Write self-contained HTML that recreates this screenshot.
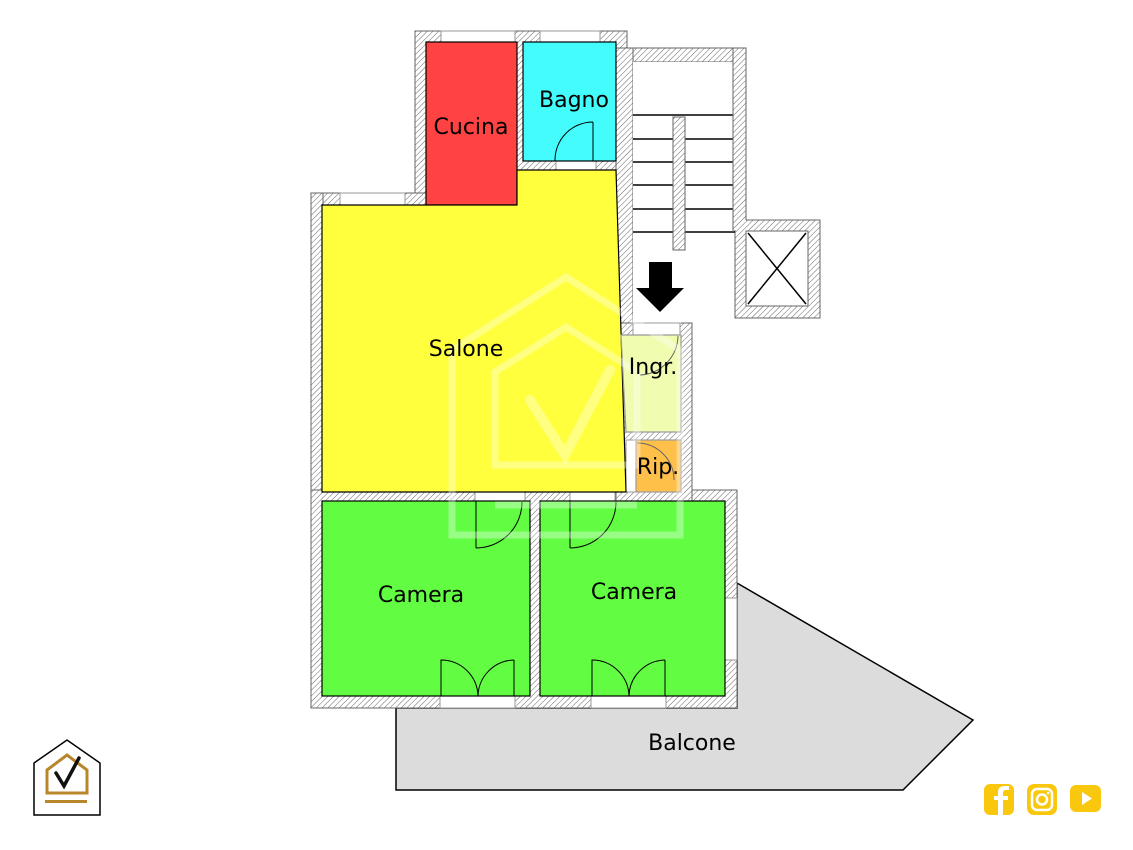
<!DOCTYPE html>
<html><head><meta charset="utf-8"><style>html,body{margin:0;padding:0;background:#fff}svg{display:block}text{font-family:"DejaVu Sans","Liberation Sans",sans-serif}</style></head>
<body>
<svg width="1133" height="850" viewBox="0 0 1133 850" xmlns="http://www.w3.org/2000/svg">
<defs>
<pattern id="h" width="4" height="4" patternUnits="userSpaceOnUse" patternTransform="rotate(45)">
<rect width="4" height="4" fill="#fff"/><line x1="0" y1="0" x2="0" y2="4" stroke="#666" stroke-width="1"/>
</pattern>
</defs>
<polygon points="396,708 737,708 737,583 973,720 903,790 396,790" fill="#dcdcdc" stroke="#000" stroke-width="1.5"/>
<g fill="url(#h)" stroke="#666" stroke-width="1">
<rect x="415" y="31" width="212" height="175"/>
<rect x="311" y="193" width="115" height="20"/>
<rect x="311" y="193" width="12" height="515"/>
<rect x="311" y="490" width="426" height="218"/>
<rect x="616" y="48" width="130" height="14"/>
<rect x="616" y="48" width="17" height="290"/>
<rect x="733" y="48" width="13" height="175"/>
<rect x="735" y="220" width="85" height="98"/>
<rect x="616" y="323" width="76" height="180"/>
</g>
<rect x="633" y="62" width="100" height="258" fill="#fff"/>
<g stroke="#000" stroke-width="1.5">
<line x1="633" y1="115" x2="735" y2="115"/>
<line x1="633" y1="139" x2="735" y2="139"/>
<line x1="633" y1="162" x2="735" y2="162"/>
<line x1="633" y1="185" x2="735" y2="185"/>
<line x1="633" y1="209" x2="735" y2="209"/>
<line x1="633" y1="232" x2="735" y2="232"/>
</g>
<rect x="673" y="117" width="12" height="133" fill="url(#h)" stroke="#666"/>
<rect x="733" y="62" width="13" height="168" fill="url(#h)"/>
<line x1="746" y1="48" x2="746" y2="220" stroke="#666"/>
<line x1="733" y1="62" x2="733" y2="232" stroke="#666"/>
<rect x="746" y="231" width="62" height="75" fill="#fff" stroke="#666"/>
<line x1="748" y1="233" x2="806" y2="304" stroke="#000" stroke-width="1.5"/>
<line x1="806" y1="233" x2="748" y2="304" stroke="#000" stroke-width="1.5"/>
<rect x="633" y="300" width="48" height="23" fill="#fff"/>
<polygon points="649,262 672,262 672,288 684,288 660,312 636,288 649,288" fill="#000"/>
<g fill="#fff" stroke="#999" stroke-width="1">
<rect x="441" y="31" width="74" height="11"/>
<rect x="540" y="31" width="60" height="11"/>
<rect x="340" y="193" width="65" height="12"/>
<rect x="440" y="696" width="75" height="12"/>
<rect x="591" y="696" width="75" height="12"/>
<rect x="725" y="598" width="12" height="62"/>
<rect x="556" y="161" width="40" height="9"/>
<rect x="475" y="492" width="50" height="9"/>
<rect x="570" y="492" width="45" height="9"/>
<rect x="633" y="323" width="47" height="12"/>
<rect x="626" y="440" width="10" height="52"/>
</g>
<g stroke="#000" stroke-width="1.2">
<rect x="426" y="42" width="91" height="163" fill="#ff4242"/>
<rect x="523" y="42" width="93" height="119" fill="#44fcfc"/>
<polygon points="322,205 517,205 517,170 616,170 626,492 322,492" fill="#ffff3e"/>
<polygon points="621,335 681,335 681,432 626,432" fill="#f0fcb0" stroke="#999"/>
<rect x="636" y="440" width="45" height="52" fill="#ffc04a" stroke="#999"/>
<rect x="322" y="501" width="208" height="195" fill="#62fc42"/>
<rect x="540" y="501" width="185" height="195" fill="#62fc42"/>
</g>
<g fill="none" stroke="#000" stroke-width="1">
<path d="M593,122 L593,161 M593,122 A38,38 0 0 0 555,161"/>
<path d="M476,548 L476,501 M476,548 A46,46 0 0 0 522,502"/>
<path d="M570,548 L570,501 M570,548 A46,46 0 0 0 616,502"/>
<path d="M441,696 L441,660 A37,37 0 0 1 478,696 M514,660 L514,696 M514,660 A37,37 0 0 0 478,696"/>
<path d="M592,696 L592,660 A37,37 0 0 1 629,696 M665,660 L665,696 M665,660 A37,37 0 0 0 629,696"/>
<path d="M678,336 A40,40 0 0 1 640,375" stroke="#666"/>
<path d="M637,443 A37,37 0 0 1 674,480" stroke="#666"/>
</g>
<g fill="none" stroke="#fff" stroke-opacity="0.35" stroke-width="7">
<polygon points="452,350 566,277 680,350 680,535 452,535"/>
<polygon points="495,372 566,327 637,372 637,465 495,465"/>
<path d="M530,400 L565,455 L610,370" stroke-linecap="round" stroke-width="10"/>
<line x1="495" y1="505" x2="637" y2="505"/>
</g>
<g font-size="22" fill="#000" text-anchor="middle">
<text x="471" y="134">Cucina</text>
<text x="574" y="107">Bagno</text>
<text x="466" y="356">Salone</text>
<text x="653" y="374">Ingr.</text>
<text x="658" y="474">Rip.</text>
<text x="421" y="602">Camera</text>
<text x="634" y="599">Camera</text>
<text x="692" y="750">Balcone</text>
</g>
<polygon points="34,763 67,740 100,763 100,815 34,815" fill="#fff" stroke="#000" stroke-width="1.5"/>
<polygon points="47,770 67,755 87,770 87,793 47,793" fill="none" stroke="#b8862b" stroke-width="3"/>
<rect x="45" y="800" width="42" height="3" fill="#b8862b"/>
<path d="M56,773 L64,786 L79,758" fill="none" stroke="#111" stroke-width="3.5" stroke-linecap="round"/>
<rect x="984" y="784" width="30" height="31" rx="6" fill="#f9c80e"/>
<path d="M1003,815 L1003,800 L1008,800 L1008,796 L1003,796 L1003,793 Q1003,790 1006,790 L1009,790 L1009,786 L1005,786 Q998,786 998,792 L998,796 L994,796 L994,800 L998,800 L998,815 Z" fill="#fff"/>
<rect x="1027" y="784" width="30" height="31" rx="7" fill="#f9c80e"/>
<rect x="1032" y="789" width="20" height="21" rx="5" fill="none" stroke="#fff" stroke-width="2.5"/>
<circle cx="1042" cy="799.5" r="5" fill="none" stroke="#fff" stroke-width="2.5"/>
<circle cx="1048" cy="793" r="1.3" fill="#fff"/>
<rect x="1070" y="785" width="31" height="27" rx="6" fill="#f9c80e"/>
<polygon points="1082,792 1082,805 1092,798.5" fill="#fff"/>
</svg>
</body></html>
